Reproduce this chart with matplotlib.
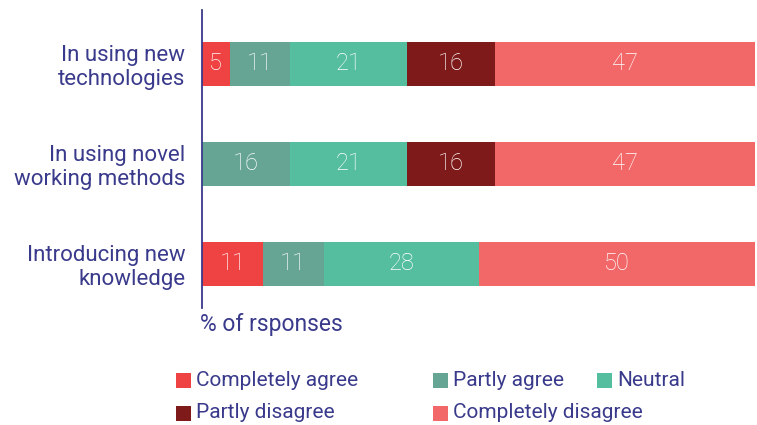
import matplotlib.pyplot as plt
from matplotlib.patches import Rectangle
import numpy as np

plt.rcParams['font.family'] = ['Roboto', 'DejaVu Sans']

# data
categories = ['In using new\ntechnologies', 'In using novel\nworking methods', 'Introducing new\nknowledge']
series = ['Completely agree', 'Partly agree', 'Neutral', 'Partly disagree', 'Completely disagree']
completely_agree = [5, 0, 11]
partly_agree = [11, 16, 11]
neutral = [21, 21, 28]
partly_disagree = [16, 16, 0]
completely_disagree = [47, 47, 50]
values = [completely_agree, partly_agree, neutral, partly_disagree, completely_disagree]
colors = ['#EF4242', '#66A594', '#55BE9F', '#7F1A1A', '#F26868']
navy = '#3A3A8C'

fig = plt.figure(figsize=(7.57, 4.25), dpi=100)
ax = fig.add_axes([202/757, 117/425, 553/757, 298/425])

y = np.arange(len(categories))
left = np.zeros(len(categories))
for vals, col in zip(values, colors):
    vals = np.array(vals, dtype=float)
    ax.barh(y, vals, left=left, height=0.44, color=col, linewidth=0)
    for yi, v, l in zip(y, vals, left):
        if v > 0:
            ax.text(l + v / 2, yi, str(int(v)), ha='center', va='center',
                    color='white', fontsize=17, fontweight='light')
    left += vals

ax.set_xlim(0, 100)
ax.set_ylim(2.44, -0.54)
ax.set_yticks(y)
ax.set_yticklabels(categories, fontsize=16, color=navy, ha='right', linespacing=1.15)
ax.tick_params(axis='y', length=0, pad=12)
ax.set_xticks([])
for s in ['top', 'right', 'bottom']:
    ax.spines[s].set_visible(False)
ax.spines['left'].set_color(navy)
ax.spines['left'].set_linewidth(1.3)

fig.text(200/757, 1 - 325/425, '% of rsponses', fontsize=16.5, color=navy,
         ha='left', va='center')

# legend laid out by hand to match the uneven column spacing
leg_x = [176, 433, 597, 176, 433]
leg_y = [380, 380, 380, 413, 413]
sq = 15
for name, col, lx, ly in zip(series, colors, leg_x, leg_y):
    fig.add_artist(Rectangle((lx/757, (425 - ly - sq/2)/425), sq/757, sq/425,
                             transform=fig.transFigure, color=col, linewidth=0))
    fig.text((lx + sq + 5)/757, 1 - ly/425, name, fontsize=15, color=navy,
             ha='left', va='center')

fig.savefig('out.png', dpi=100)
